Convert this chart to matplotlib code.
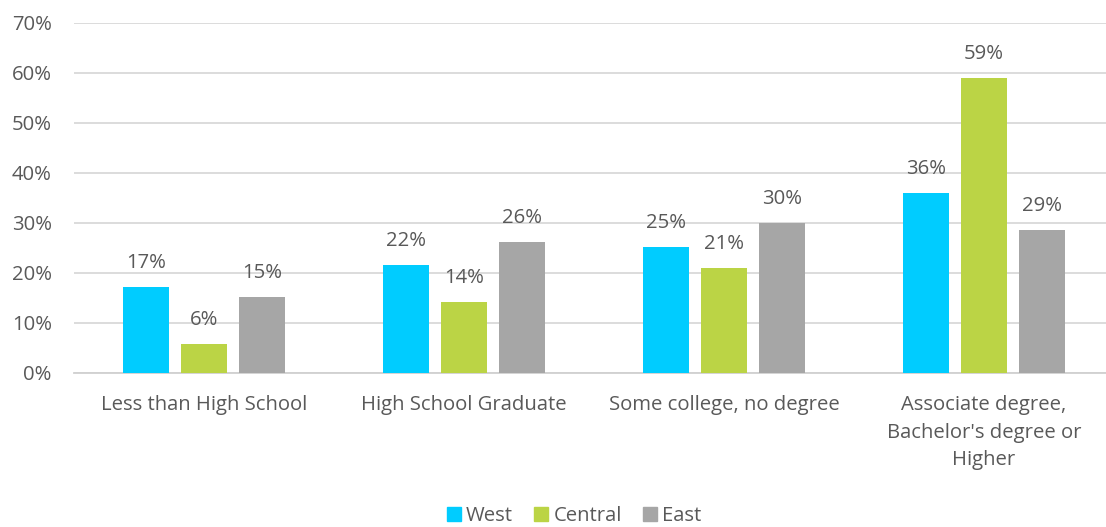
import numpy as np
import matplotlib.pyplot as plt
from matplotlib.patches import Patch

categories = ["Less than High School", "High School Graduate", "Some college, no degree",
              "Associate degree,\nBachelor's degree or\nHigher"]
series = ["West", "Central", "East"]
west = [17.2, 21.6, 25.2, 36.0]
central = [5.8, 14.2, 21.0, 59.0]
east = [15.2, 26.2, 30.0, 28.6]
colors = ["#00CCFF", "#BBD445", "#A6A6A6"]

plt.rcParams['font.family'] = ['Open Sans', 'DejaVu Sans']
text_color = "#595959"
fs = 14.6

fig = plt.figure(figsize=(11.06, 5.27), dpi=100)
ax = fig.add_axes([74 / 1106, 154.5 / 527, 1040 / 1106, 350 / 527])

x = np.arange(len(categories))
width = 0.177
step = 0.223
for i, (vals, col) in enumerate(zip([west, central, east], colors)):
    pos = x + (i - 1) * step
    ax.bar(pos, vals, width=width, color=col, zorder=3)
    for p, v in zip(pos, vals):
        ax.text(p, v + 2.7, f"{round(v):.0f}%", ha="center", va="bottom",
                fontsize=fs, color=text_color)

ax.set_xlim(-0.5, 3.5)
ax.set_ylim(0, 70)
ax.set_yticks(np.arange(0, 71, 10))
ax.set_yticklabels([f"{t}%" for t in range(0, 71, 10)])
ax.set_xticks(x)
ax.set_xticklabels(categories, linespacing=1.5)
ax.tick_params(axis="both", length=0, labelsize=fs, labelcolor=text_color)
ax.tick_params(axis="y", pad=16)
ax.tick_params(axis="x", pad=16.5)
ax.yaxis.grid(True, color="#D9D9D9", linewidth=1.3, zorder=0)
for s in ["top", "right", "left"]:
    ax.spines[s].set_visible(False)
ax.spines["bottom"].set_color("#D0D0D0")
ax.spines["bottom"].set_linewidth(1.3)

handles = [Patch(color=c, label=s) for c, s in zip(colors, series)]
fig.legend(handles=handles, loc="center", bbox_to_anchor=(574 / 1106, 1 - 516 / 527),
           ncol=3, frameon=False, fontsize=fs, labelcolor=text_color,
           handlelength=0.7, handleheight=0.7, handletextpad=0.25, columnspacing=1.05)

fig.savefig("out.png", dpi=100)
